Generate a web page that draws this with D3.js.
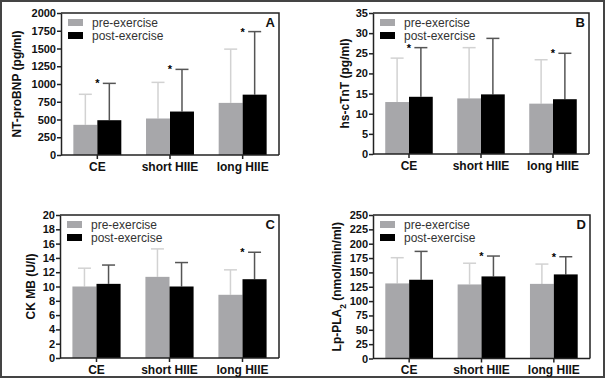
<!DOCTYPE html>
<html lang="en">
<head>
<meta charset="UTF-8">
<title>Cardiac markers pre/post exercise</title>
<script src="https://d3js.org/d3.v7.min.js"></script>
<style>
  body { margin: 0; background: #fff; }
  svg { display: block; font-family: Arial, "Liberation Sans", sans-serif; }
  .tick text { font-size: 11px; font-weight: bold; fill: #111; }
  .tick line, .domain { stroke: #222; stroke-width: 1.5px; }
  .tick text.xlab { font-size: 12px; }
  .ylab { font-size: 12px; font-weight: bold; fill: #111; }
  .leg { font-size: 12px; fill: #333; }
  .panel { font-size: 13px; font-weight: bold; fill: #111; }
</style>
</head>
<body>
<svg id="chart" width="606" height="379"></svg>
<script>
// data (mean and SD)
const categories = ["CE", "short HIIE", "long HIIE"];
const seriesNames = ["pre-exercise", "post-exercise"];

const ntproPre = [425, 514, 734];
const ntproPreSD = [430, 509, 757];
const ntproPost = [490, 612, 850];
const ntproPostSD = [519, 594, 888];
const ntproStars = [true, true, true];
const ntproTicks = d3.range(0, 2001, 250);

const tntPre = [12.9, 13.8, 12.5];
const tntPreSD = [10.9, 12.6, 10.9];
const tntPost = [14.2, 14.8, 13.6];
const tntPostSD = [12.2, 13.9, 11.4];
const tntStars = [true, false, true];
const tntTicks = d3.range(0, 36, 5);

const ckPre = [10.0, 11.35, 8.84];
const ckPreSD = [2.56, 3.91, 3.49];
const ckPost = [10.37, 10.0, 11.02];
const ckPostSD = [2.63, 3.35, 3.77];
const ckStars = [false, false, true];
const ckTicks = d3.range(0, 21, 2);

const lpPre = [130.8, 129, 130];
const lpPreSD = [44.8, 37, 34.5];
const lpPost = [137.2, 143, 146.5];
const lpPostSD = [49.4, 35.5, 30.8];
const lpStars = [false, true, true];
const lpTicks = d3.range(0, 251, 25);

const svg = d3.select("#chart");

// outer frame
svg.append("rect")
  .attr("x", 1).attr("y", 1).attr("width", 603).attr("height", 376)
  .attr("fill", "none").attr("stroke", "#444").attr("stroke-width", 2);

const panels = [
  { id: "A", x0: 61, x1: 279, y0: 13, y1: 155, labX: 17, ylab: "NT-proBNP (pg/ml)",
    pre: ntproPre, preSD: ntproPreSD, post: ntproPost, postSD: ntproPostSD, stars: ntproStars, ticks: ntproTicks },
  { id: "B", x0: 373, x1: 589, y0: 13, y1: 154, labX: 345, ylab: "hs-cTnT (pg/ml)",
    pre: tntPre, preSD: tntPreSD, post: tntPost, postSD: tntPostSD, stars: tntStars, ticks: tntTicks },
  { id: "C", x0: 60, x1: 279, y0: 215, y1: 358, labX: 31, ylab: "CK MB (U/l)",
    pre: ckPre, preSD: ckPreSD, post: ckPost, postSD: ckPostSD, stars: ckStars, ticks: ckTicks },
  { id: "D", x0: 373, x1: 590, y0: 215, y1: 358.5, labX: 337, ylab: "Lp-PLA|2| (nmol/min/ml)",
    pre: lpPre, preSD: lpPreSD, post: lpPost, postSD: lpPostSD, stars: lpStars, ticks: lpTicks }
];

const preColor = "#a7a7aa";
const postColor = "#000";
const preErr = "#d2d2d2";
const postErr = "#555";

panels.forEach(p => {
  const g = svg.append("g");
  const x = d3.scaleBand().domain(categories).range([p.x0, p.x1])
    .paddingInner(0.34).paddingOuter(0.17);
  const xs = d3.scaleBand().domain(seriesNames).range([0, x.bandwidth()]);
  const y = d3.scaleLinear()
    .domain([0, p.ticks[p.ticks.length - 1]]).range([p.y1, p.y0]);

  const rows = categories.map((c, i) => ({
    cat: c,
    vals: [
      { s: seriesNames[0], v: p.pre[i], sd: p.preSD[i], fill: preColor, err: preErr },
      { s: seriesNames[1], v: p.post[i], sd: p.postSD[i], fill: postColor, err: postErr }
    ],
    star: p.stars[i]
  }));

  const grp = g.selectAll(".grp").data(rows).enter().append("g")
    .attr("transform", d => `translate(${x(d.cat)},0)`);

  // error bars (upper only), drawn under the bars
  const eb = grp.selectAll(".eb").data(d => d.vals).enter().append("g");
  eb.append("line")
    .attr("x1", d => xs(d.s) + xs.bandwidth() / 2)
    .attr("x2", d => xs(d.s) + xs.bandwidth() / 2)
    .attr("y1", d => y(d.v))
    .attr("y2", d => y(d.v + d.sd))
    .attr("stroke", d => d.err).attr("stroke-width", 1.5);
  eb.append("line")
    .attr("x1", d => xs(d.s) + xs.bandwidth() / 2 - 6.5)
    .attr("x2", d => xs(d.s) + xs.bandwidth() / 2 + 6.5)
    .attr("y1", d => y(d.v + d.sd))
    .attr("y2", d => y(d.v + d.sd))
    .attr("stroke", d => d.err).attr("stroke-width", 1.5);

  grp.selectAll("rect").data(d => d.vals).enter().append("rect")
    .attr("x", d => xs(d.s))
    .attr("width", xs.bandwidth())
    .attr("y", d => y(d.v))
    .attr("height", d => y(0) - y(d.v))
    .attr("fill", d => d.fill);

  // significance stars
  grp.filter(d => d.star).append("text")
    .attr("x", x.bandwidth() / 2)
    .attr("y", d => y(d.vals[1].v + d.vals[1].sd) + 4)
    .attr("text-anchor", "middle")
    .style("font-size", "11px").style("font-weight", "bold")
    .text("*");

  // frame top/right
  g.append("path")
    .attr("d", `M${p.x0},${p.y0}H${p.x1}V${p.y1}`)
    .attr("fill", "none").attr("stroke", "#222").attr("stroke-width", 1.5);

  g.append("g").attr("transform", `translate(${p.x0},0)`)
    .call(d3.axisLeft(y).tickValues(p.ticks).tickFormat(d3.format("d"))
      .tickSize(4).tickPadding(1).tickSizeOuter(0));

  const xa = g.append("g").attr("transform", `translate(0,${p.y1})`)
    .call(d3.axisBottom(x).tickSize(4).tickSizeOuter(0));
  xa.select(".domain").attr("d", `M${p.x0},0H${p.x1}`);
  xa.selectAll("text").attr("class", "xlab").attr("dy", null).attr("y", 15.5);

  // y axis title
  const yl = g.append("text").attr("class", "ylab")
    .attr("transform", `translate(${p.labX},${(p.y0 + p.y1) / 2}) rotate(-90)`)
    .attr("text-anchor", "middle").attr("dy", "0.35em");
  p.ylab.split("|").forEach((part, i) => {
    const t = yl.append("tspan").text(part);
    if (i === 1) t.style("font-size", "8.5px").attr("baseline-shift", "sub");
  });

  // legend
  const leg = g.append("g").attr("transform", `translate(${p.x0 + 7},${p.y0 + 6})`);
  seriesNames.forEach((s, i) => {
    leg.append("rect").attr("x", 0).attr("y", i * 13).attr("width", 15).attr("height", 7)
      .attr("fill", i === 0 ? preColor : postColor);
    leg.append("text").attr("class", "leg").attr("x", 24).attr("y", i * 13 + 3.5)
      .attr("dy", "0.35em").text(s);
  });

  g.append("text").attr("class", "panel")
    .attr("x", p.x1 - 4).attr("y", p.y0 + 14).attr("text-anchor", "end").text(p.id);
});
</script>
</body>
</html>
